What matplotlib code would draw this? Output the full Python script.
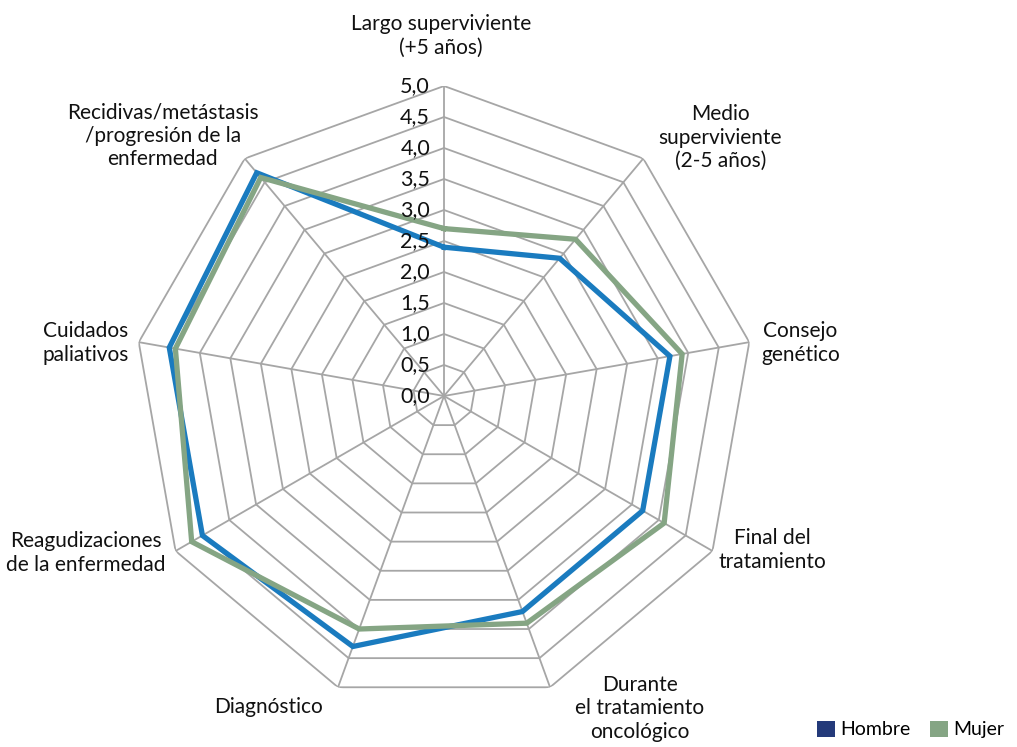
import numpy as np
import matplotlib
matplotlib.use("Agg")
import matplotlib.pyplot as plt
from matplotlib.patches import Patch

# Data
categories = [
    "Largo superviviente\n(+5 años)",
    "Medio\nsuperviviente\n(2-5 años)",
    "Consejo\ngenético",
    "Final del\ntratamiento",
    "Durante\nel tratamiento\noncológico",
    "Diagnóstico",
    "Reagudizaciones\nde la enfermedad",
    "Cuidados\npaliativos",
    "Recidivas/metástasis\n/progresión de la\nenfermedad",
]
hombre = [2.4, 2.9, 3.7, 3.7, 3.7, 4.3, 4.5, 4.5, 4.7]
mujer = [2.7, 3.3, 3.9, 4.1, 3.9, 4.0, 4.7, 4.4, 4.6]
r_ticks = [0.0, 0.5, 1.0, 1.5, 2.0, 2.5, 3.0, 3.5, 4.0, 4.5, 5.0]

# label offsets from the outer vertex, in pixels
label_offsets = [(-3, 50), (77, 21), (51, -1), (60, 1), (90, -21),
                 (-70, -20), (-90, -2), (-53, -1), (-82, 23)]

BLUE = "#1a7bbf"
GREEN = "#85a584"
NAVY = "#243a7a"
GRID = "#a6a6a6"

plt.rcParams["font.family"] = ["Lato", "DejaVu Sans"]

fig = plt.figure(figsize=(10.17, 7.47), dpi=100)
ax = fig.add_axes([0.1318, 0.0549, 0.6096, 0.830], projection="polar")
ax.set_theta_offset(np.pi / 2)
ax.set_theta_direction(-1)
ax.set_ylim(0, 5)
ax.axis("off")

n = len(categories)
theta = np.linspace(0, 2 * np.pi, n, endpoint=False)
theta_closed = np.append(theta, theta[0])

# polygon grid
for r in r_ticks[1:]:
    ax.plot(theta_closed, [r] * (n + 1), color=GRID, lw=1.3, zorder=1)
for t in theta:
    ax.plot([t, t], [0, 5], color=GRID, lw=1.3, zorder=1)

# series
ax.plot(theta_closed, hombre + hombre[:1], color=BLUE, lw=3.8, zorder=3,
        solid_joinstyle="miter")
ax.plot(theta_closed, mujer + mujer[:1], color=GREEN, lw=3.8, zorder=3,
        solid_joinstyle="miter")

# radial tick labels
for r in r_ticks:
    ax.annotate(f"{r:.1f}".replace(".", ","), xy=(0, r), xytext=(-14, 0),
                textcoords="offset pixels", ha="right", va="center",
                fontsize=15.5, color="#111111", zorder=4)

# category labels
for t, lab, off in zip(theta, categories, label_offsets):
    ax.annotate(lab, xy=(t, 5), xytext=off, textcoords="offset pixels",
                ha="center", va="center", fontsize=15, color="#111111",
                linespacing=1.22, annotation_clip=False)

handles = [Patch(facecolor=NAVY, label="Hombre"),
           Patch(facecolor=GREEN, label="Mujer")]
fig.legend(handles=handles, loc="lower right", ncol=2, frameon=False,
           fontsize=14, bbox_to_anchor=(1.005, -0.012), handlelength=0.9,
           handleheight=0.9, handletextpad=0.3, columnspacing=1.0)

fig.savefig("out.png", dpi=100)
